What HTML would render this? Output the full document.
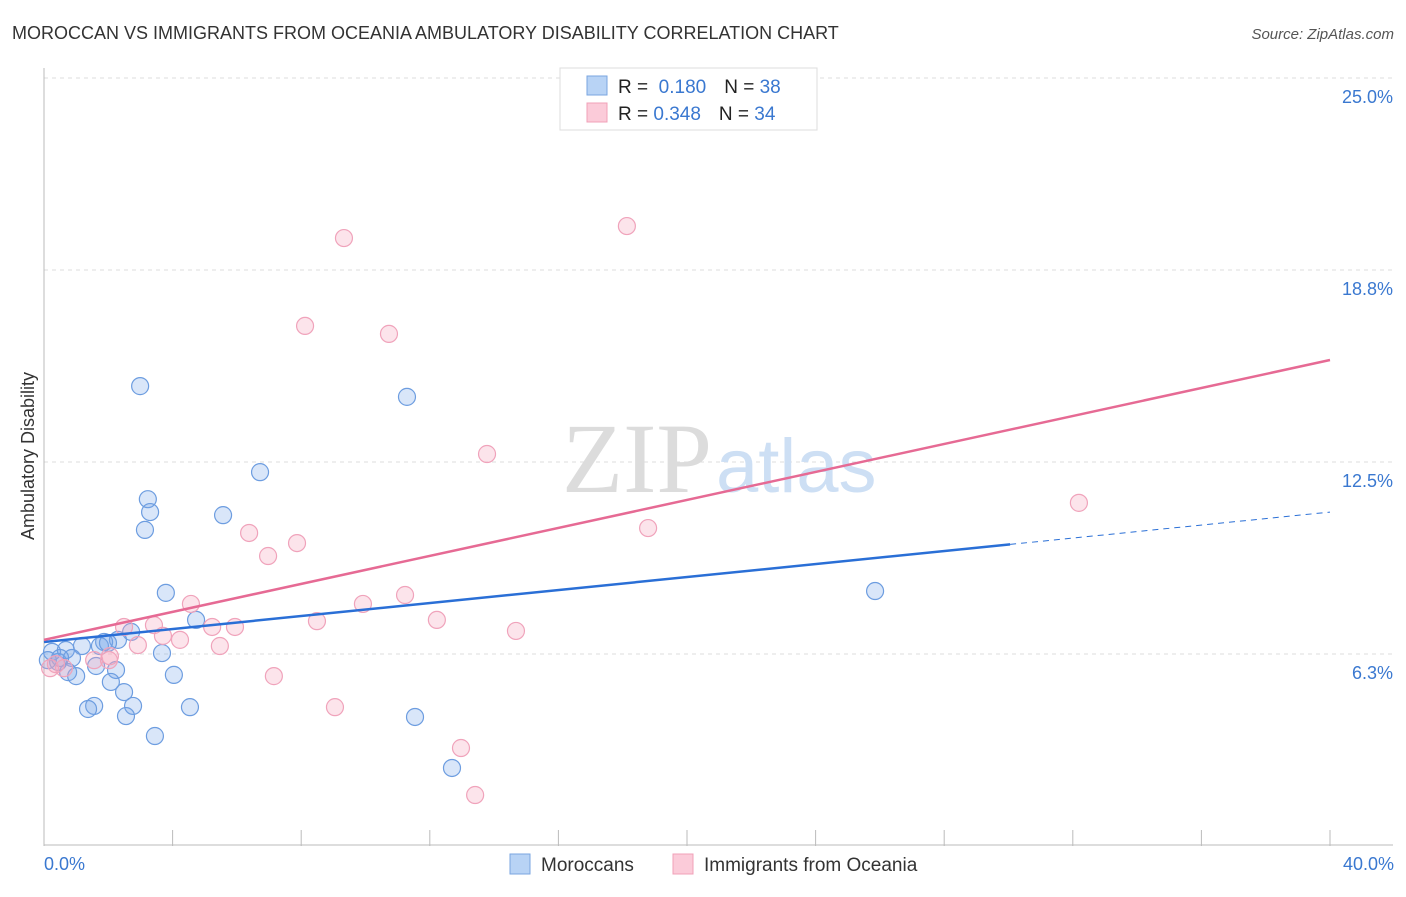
<!DOCTYPE html>
<html><head><meta charset="utf-8"><style>
body{margin:0;background:#fff;font-family:"Liberation Sans",sans-serif;}
svg text{font-family:"Liberation Sans",sans-serif;}
</style></head><body>
<svg width="1406" height="892">
<text x="12" y="39" font-size="18" fill="#333">MOROCCAN VS IMMIGRANTS FROM OCEANIA AMBULATORY DISABILITY CORRELATION CHART</text>
<text x="1394" y="39" font-size="15" fill="#555" font-style="italic" text-anchor="end">Source: ZipAtlas.com</text>
<g id="grid"></g>
<text x="712" y="492" font-size="100" fill="#dcdcdc" text-anchor="end" style="font-family:'Liberation Serif',serif">ZIP</text>
<text x="716" y="492" font-size="76" fill="#cddff4">atlas</text>
<g id="marks"></g>
<text transform="translate(34,456) rotate(-90)" font-size="18" fill="#333" text-anchor="middle">Ambulatory Disability</text>
<text x="44" y="870" font-size="18" fill="#3a78d0">0.0%</text>
<text x="1394" y="870" font-size="18" fill="#3a78d0" text-anchor="end">40.0%</text>
<g>
<rect x="560" y="68" width="257" height="62" fill="#fff" stroke="#ddd"/>
<rect x="587" y="76" width="20" height="19" fill="#b8d3f5" stroke="#7aa6e0"/>
<rect x="587" y="103" width="20" height="19" fill="#fbcbd9" stroke="#f0a0b8"/>
<text x="618" y="93" font-size="19" fill="#222">R = <tspan fill="#3a78d0">&#160;0.180</tspan><tspan dx="18">N = </tspan><tspan fill="#3a78d0">38</tspan></text>
<text x="618" y="120" font-size="19" fill="#222">R = <tspan fill="#3a78d0">0.348</tspan><tspan dx="18">N = </tspan><tspan fill="#3a78d0">34</tspan></text>
</g>
<g>
<rect x="510" y="854" width="20" height="20" fill="#b8d3f5" stroke="#7aa6e0"/>
<text x="541" y="871" font-size="19" fill="#333">Moroccans</text>
<rect x="673" y="854" width="20" height="20" fill="#fbcbd9" stroke="#f0a0b8"/>
<text x="704" y="871" font-size="19" fill="#333">Immigrants from Oceania</text>
</g>
</svg>
<script>
const yTicks=[25,18.75,12.5,6.25];
const yTickLabels=["25.0%","18.8%","12.5%","6.3%"];
const xTicks=[0,4,8,12,16,20,24,28,32,36,40];
const blueX=[2.99,11.29,6.72,3.23,3.30,5.57,3.14,3.79,25.85,4.73,2.71,2.30,1.87,1.18,1.74,3.67,0.25,0.68,0.12,0.44,0.87,1.62,2.24,0.75,1.00,4.04,2.08,2.49,2.77,1.56,1.37,4.54,2.55,11.54,3.45,12.69,0.50,1.99];
const blueY=[14.97,14.62,12.17,11.29,10.87,10.77,10.29,8.24,8.30,7.36,6.97,6.71,6.64,6.51,6.51,6.28,6.32,6.38,6.05,5.99,6.12,5.86,5.73,5.66,5.53,5.57,5.34,5.01,4.56,4.56,4.46,4.52,4.23,4.20,3.58,2.54,6.12,6.61];
const pinkX=[18.13,9.33,8.12,10.73,13.78,32.19,18.79,6.38,7.87,6.97,11.23,4.57,9.92,8.49,12.22,3.42,2.49,5.23,5.94,14.68,3.70,4.23,2.92,5.47,2.02,1.56,7.15,9.05,12.97,13.41,0.19,0.62,0.37,2.05];
const pinkY=[20.18,19.79,16.93,16.67,12.76,11.17,10.35,10.19,9.86,9.44,8.17,7.88,7.88,7.32,7.36,7.19,7.13,7.13,7.13,7.00,6.84,6.71,6.54,6.51,6.05,6.05,5.53,4.52,3.19,1.66,5.79,5.79,5.92,6.18];
const blueTrend=[6.64,10.87];
const blueSolidEnd=30.05;
const pinkTrend=[6.71,15.82];
const NS="http://www.w3.org/2000/svg";
const xs=v=>44+v*32.15;
const ys=v=>846-v*30.72;
function mk(tag,attrs,parent){const e=document.createElementNS(NS,tag);for(const k in attrs)e.setAttribute(k,attrs[k]);parent.appendChild(e);return e;}
const grid=document.getElementById('grid');
yTicks.forEach((t,i)=>{
 const l=mk('line',{x1:44,x2:1393,y1:ys(t),y2:ys(t),stroke:'#ddd','stroke-dasharray':'4,4'},grid);
 
 
 const tx=mk('text',{x:1393,y:ys(t)+25,'font-size':18,fill:'#3a78d0','text-anchor':'end'},grid);
 tx.textContent=yTickLabels[i];
 
 
});
const ax=mk('line',{x1:44,x2:44,y1:68,y2:846,stroke:'#bbb'},grid);


const bx=mk('line',{x1:44,x2:1393,y1:845,y2:845,stroke:'#bbb'},grid);


xTicks.forEach(t=>{
 const l=mk('line',{x1:xs(t),x2:xs(t),y1:830,y2:846,stroke:'#bbb'},grid);
 
 
});
const marks=document.getElementById('marks');
blueX.forEach((x,i)=>{
 const c=mk('circle',{cx:xs(x),cy:ys(blueY[i]),r:8.5,fill:'rgba(120,165,235,0.28)',stroke:'#6d9de0','stroke-width':1.2},marks);
 
 
});
pinkX.forEach((x,i)=>{
 const c=mk('circle',{cx:xs(x),cy:ys(pinkY[i]),r:8.5,fill:'rgba(245,165,190,0.3)',stroke:'#f0a3bb','stroke-width':1.2},marks);
 
 
});
const bAt=x=>blueTrend[0]+(blueTrend[1]-blueTrend[0])*x/40;
const t1=mk('line',{x1:xs(0),y1:ys(blueTrend[0]),x2:xs(blueSolidEnd),y2:ys(bAt(blueSolidEnd)),stroke:'#2a6fd6','stroke-width':2.5},marks);


const t2=mk('line',{x1:xs(blueSolidEnd),y1:ys(bAt(blueSolidEnd)),x2:xs(40),y2:ys(blueTrend[1]),stroke:'#2a6fd6','stroke-width':1,'stroke-dasharray':'6,5'},marks);


const t3=mk('line',{x1:xs(0),y1:ys(pinkTrend[0]),x2:xs(40),y2:ys(pinkTrend[1]),stroke:'#e66a94','stroke-width':2.5},marks);


</script>
</body></html>
